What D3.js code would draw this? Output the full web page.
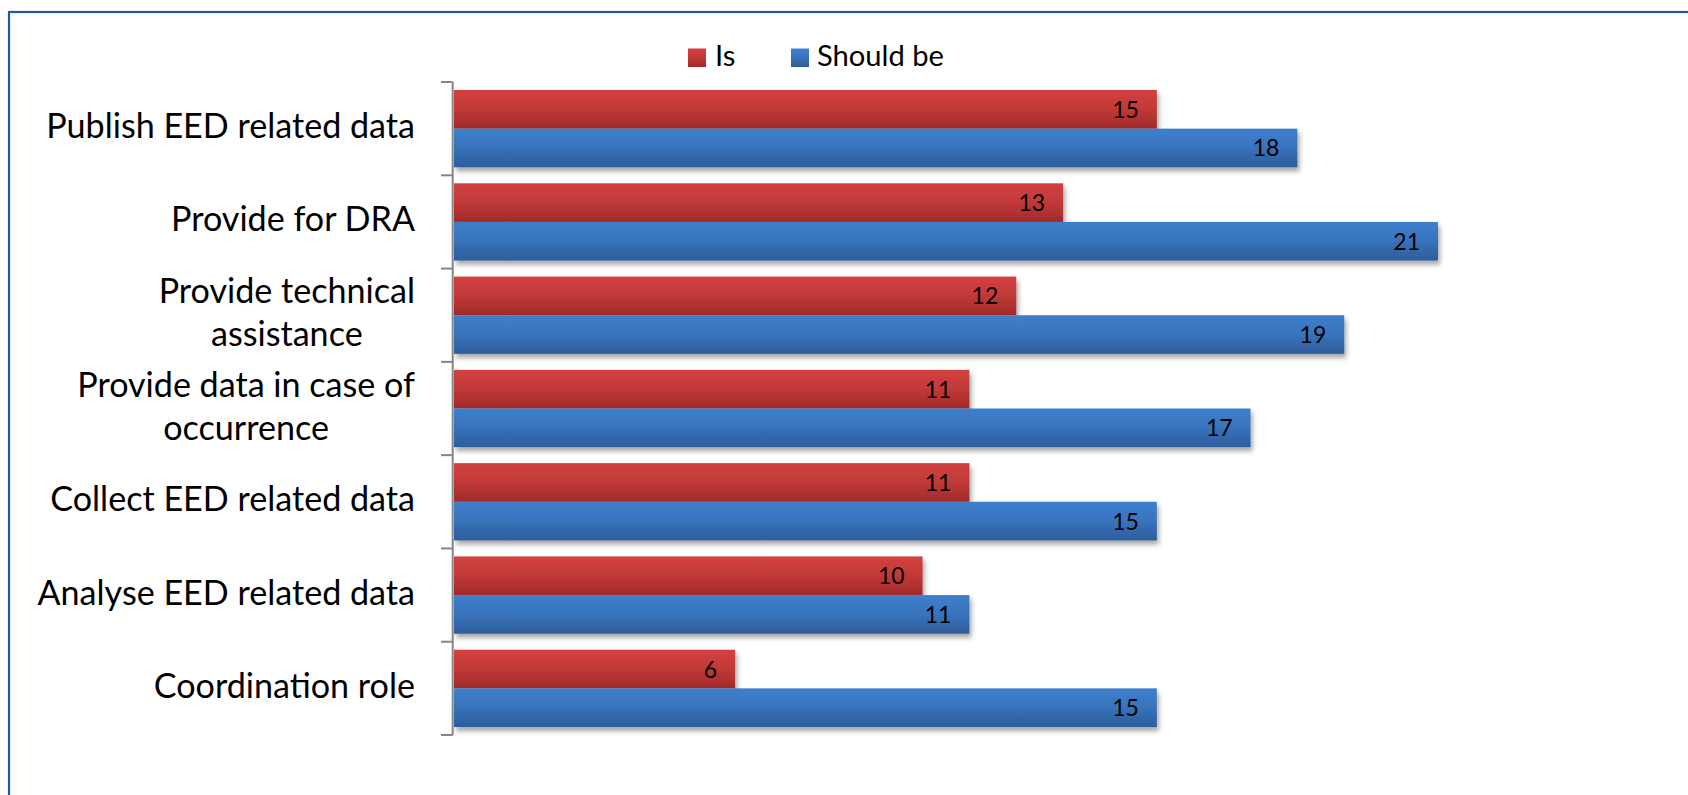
<!DOCTYPE html>
<html>
<head>
<meta charset="utf-8">
<script src="https://cdn.jsdelivr.net/npm/d3@7"></script>
<style>
  html, body { margin: 0; padding: 0; background: #fff; overflow: hidden; }
  svg { display: block; }
  text { font-family: Lato, "Open Sans", sans-serif; fill: #000; }
</style>
</head>
<body>
<svg id="chart" width="1688" height="795"></svg>
<script>
// ---- data ----
const categories = [
  "Publish EED related data",
  "Provide for DRA",
  "Provide technical assistance",
  "Provide data in case of occurrence",
  "Collect EED related data",
  "Analyse EED related data",
  "Coordination role"
];
const labelLines = [
  ["Publish EED related data"],
  ["Provide for DRA"],
  ["Provide technical", "assistance"],
  ["Provide data in case of", "occurrence"],
  ["Collect EED related data"],
  ["Analyse EED related data"],
  ["Coordination role"]
];
const seriesNames = ["Is", "Should be"];
const isValues = [15, 13, 12, 11, 11, 10, 6];
const shouldBeValues = [18, 21, 19, 17, 15, 11, 15];
const seriesValues = [isValues, shouldBeValues];

// ---- layout ----
const W = 1688, H = 795;
const svg = d3.select("#chart");
const defs = svg.append("defs");

const colors = [
  { top: "#d24140", bottom: "#a12a29" },
  { top: "#3e7fcd", bottom: "#2d5d9b" }
];
colors.forEach((c, i) => {
  const g = defs.append("linearGradient").attr("id", "grad" + i)
    .attr("x1", 0).attr("y1", 0).attr("x2", 0).attr("y2", 1);
  g.append("stop").attr("offset", "0%").attr("stop-color", c.top);
  g.append("stop").attr("offset", "45%").attr("stop-color", d3.interpolateRgb(c.top, c.bottom)(0.3));
  g.append("stop").attr("offset", "100%").attr("stop-color", c.bottom);
});
const f = defs.append("filter").attr("id", "shadow")
  .attr("x", "-5%").attr("y", "-20%").attr("width", "115%").attr("height", "160%");
f.append("feDropShadow").attr("dx", 2).attr("dy", 4).attr("stdDeviation", 2.5)
  .attr("flood-color", "#000").attr("flood-opacity", 0.35);

// border
svg.append("rect").attr("x", 9).attr("y", 12).attr("width", W + 20).attr("height", H + 20)
  .attr("fill", "none").attr("stroke", "#1f5c9c").attr("stroke-width", 2.2);

const x = d3.scaleLinear().domain([0, 21]).range([454, 1438]);
const y = d3.scaleBand().domain(categories).range([82, 735])
  .paddingInner(0.1715).paddingOuter(0.0857);
const ySub = d3.scaleBand().domain(seriesNames).range([0, y.bandwidth()]);
const step = y.step();

// bars
const gBars = svg.append("g");
seriesNames.forEach((s, si) => {
  gBars.selectAll(".bar" + si).data(categories).enter().append("rect")
    .attr("x", x(0))
    .attr("y", c => y(c) + ySub(s))
    .attr("width", (c, i) => x(seriesValues[si][i]) - x(0))
    .attr("height", ySub.bandwidth())
    .attr("fill", "url(#grad" + si + ")")
    .attr("filter", "url(#shadow)");
});

// fitting helper
function fitSize(str, targetW) {
  const t = svg.append("text").attr("font-size", 100).text(str);
  const w = t.node().getComputedTextLength();
  t.remove();
  return 100 * targetW / w;
}

// value labels
const numSize = 23;
seriesNames.forEach((s, si) => {
  svg.append("g").selectAll("text").data(categories).enter().append("text")
    .attr("x", (c, i) => x(seriesValues[si][i]) - 18)
    .attr("y", c => y(c) + ySub(s) + ySub.bandwidth() / 2 + 8.5)
    .attr("text-anchor", "end")
    .attr("font-size", numSize)
    .text((c, i) => seriesValues[si][i]);
});

// axis
const axisX = 452.7;
const gAxis = svg.append("g").attr("stroke", "#868686").attr("stroke-width", 2);
gAxis.append("line").attr("x1", axisX).attr("x2", axisX).attr("y1", 82).attr("y2", 735);
d3.range(categories.length + 1).forEach(i => {
  const yy = 82 + i * step;
  gAxis.append("line").attr("x1", 441).attr("x2", axisX).attr("y1", yy).attr("y2", yy);
});

// category labels
const catSize = fitSize("Publish EED related data", 369);
const lineH = 43;
const gCat = svg.append("g");
categories.forEach((c, i) => {
  const lines = labelLines[i];
  const cy = y(c) + y.bandwidth() / 2;
  const t = gCat.append("text").attr("font-size", catSize);
  const widths = lines.map(l => {
    const tt = svg.append("text").attr("font-size", catSize).text(l);
    const w = tt.node().getComputedTextLength(); tt.remove(); return w;
  });
  const maxW = d3.max(widths);
  const rightEdge = 415;
  const cx = rightEdge - maxW / 2;
  const n = lines.length;
  lines.forEach((l, li) => {
    const base = n === 1 ? cy + 9.5 : cy - 12 + li * lineH;
    t.append("tspan").attr("x", cx).attr("y", base).attr("text-anchor", "middle").text(l);
  });
});

// legend
const legSize = fitSize("Should be", 127);
const legend = [
  { name: seriesNames[0], sx: 688, tx: 715 },
  { name: seriesNames[1], sx: 791, tx: 817 }
];
legend.forEach((l, i) => {
  svg.append("rect").attr("x", l.sx).attr("y", 48.5).attr("width", 18).attr("height", 18.5)
    .attr("fill", "url(#grad" + i + ")");
  svg.append("text").attr("x", l.tx).attr("y", 65.7).attr("font-size", legSize).text(l.name);
});
</script>
</body>
</html>
